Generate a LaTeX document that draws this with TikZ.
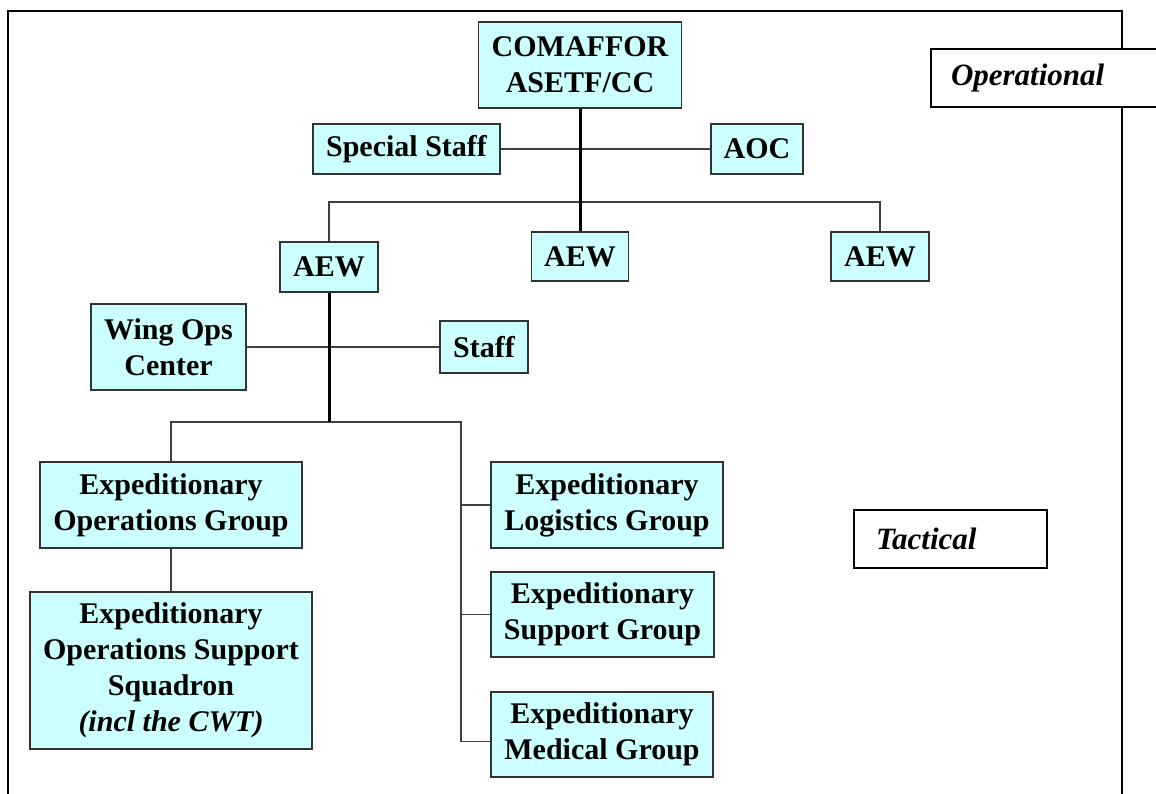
\documentclass[tikz,border=0pt]{standalone}
\usepackage{fontspec}
\setmainfont{Liberation Serif}
\begin{document}
\begin{tikzpicture}[x=1pt,y=-1pt,
  org/.style={draw=black!80,line width=1.4pt,fill=cyan!20,inner sep=0pt,align=center,
    font=\fontsize{30}{36}\selectfont\bfseries},
  lvl/.style={draw=black,line width=2pt,fill=white,inner ysep=0pt,align=left,
    font=\fontsize{31}{36}\selectfont\bfseries\itshape},
  thin/.style={draw=black!75,line width=1.4pt},
  thickl/.style={draw=black,line width=3pt},
  frame/.style={draw=black,line width=2pt}]
\clip (0,0) rectangle (1156,793);
\fill[white] (0,0) rectangle (1156,793);
\definecolor{boxfill}{HTML}{CCFFFF}
\tikzset{org/.append style={fill=boxfill}}
% frame
\draw[frame] (8,800) -- (8,11) -- (1122,11) -- (1122,800);
% level labels
\node[lvl,anchor=west,minimum height=58pt,text width=210pt,inner xsep=20pt] (oper) at (930,78) {Operational};
\node[lvl,anchor=west,minimum height=58pt,text width=149pt,inner xsep=22pt] (tact) at (853,539) {Tactical};
% nodes
\node[org,minimum width=203pt,minimum height=86pt] (com) at (580,65) {COMAFFOR\\ASETF/CC};
\node[org,minimum width=187pt,minimum height=50pt] (spec) at (406.5,149) {Special Staff};
\node[org,minimum width=92pt,minimum height=50pt] (aoc) at (757,149) {AOC};
\node[org,minimum width=98pt,minimum height=50pt] (aew1) at (329,267) {AEW};
\node[org,minimum width=97pt,minimum height=49pt] (aew2) at (580,256.5) {AEW};
\node[org,minimum width=98pt,minimum height=49pt] (aew3) at (880,256.5) {AEW};
\node[org,minimum width=155pt,minimum height=86pt] (woc) at (168.5,347) {Wing Ops\\Center};
\node[org,minimum width=88pt,minimum height=52pt] (staff) at (484,347) {Staff};
\node[org,minimum width=262pt,minimum height=86pt] (eog) at (171,505) {Expeditionary\\Operations Group};
\node[org,minimum width=282pt,minimum height=157pt] (eoss) at (171,670.5) {Expeditionary\\Operations Support\\Squadron\\{\itshape(incl the CWT)}};
\node[org,minimum width=232pt,minimum height=86pt] (elg) at (607,505) {Expeditionary\\Logistics Group};
\node[org,minimum width=223pt,minimum height=85pt] (esg) at (602.5,614.5) {Expeditionary\\Support Group};
\node[org,minimum width=222pt,minimum height=85pt] (emg) at (602,734.5) {Expeditionary\\Medical Group};
% connectors
\coordinate (topbus) at (580,202);
\coordinate (lowbus) at (329,422);
\coordinate (rbus) at (461,422);
\draw[thin] (spec.east) -- (aoc.west);
\draw[thin] (aew1.north) |- (topbus) -| (aew3.north);
\draw[thickl] (com.south) -- (aew2.north);
\draw[thin] (woc.east) -- (staff.west);
\draw[thin] (eog.north) |- (rbus) |- ([yshift=-7pt]emg.west);
\draw[thickl] (aew1.south) -- (lowbus);
\draw[thin] (rbus |- elg.west) -- (elg.west);
\draw[thin] (rbus |- esg.west) -- (esg.west);
\draw[thin] (eog.south) -- (eoss.north);
\end{tikzpicture}
\end{document}
